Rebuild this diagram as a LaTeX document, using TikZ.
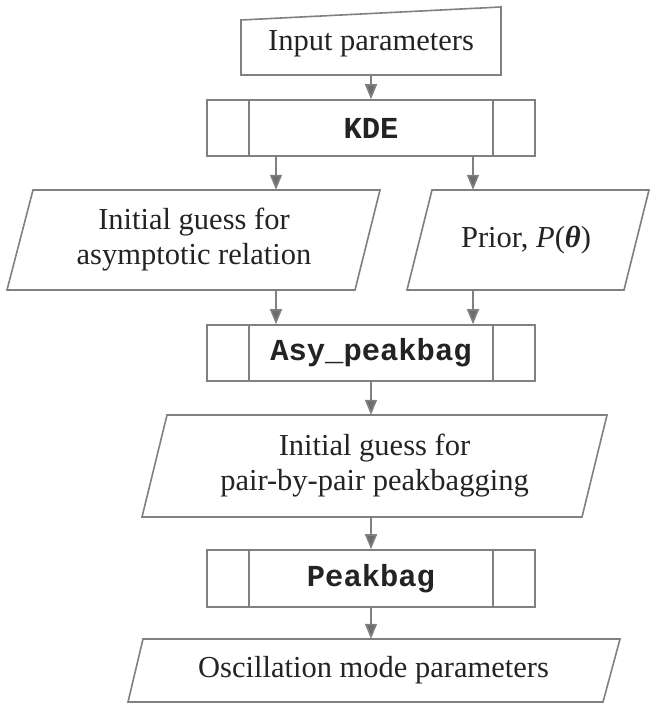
\documentclass[tikz,border=0pt]{standalone}
\usepackage{fontspec}
\setmainfont{Liberation Serif}
\setmonofont{Liberation Mono}
\usetikzlibrary{arrows.meta}

\definecolor{linegray}{RGB}{128,128,128}
\definecolor{tipgray}{RGB}{108,108,108}
\definecolor{textgray}{RGB}{35,35,35}

\tikzset{
	outline/.style={draw=linegray,line width=1.6pt,line join=miter},
	label/.style={text=textgray,align=center,inner sep=0pt,font=\fontsize{30.5}{35}\selectfont},
	process/.style={label,outline,minimum width=328pt,minimum height=56pt,
		font=\fontsize{30.5}{35}\selectfont\ttfamily\bfseries,
		path picture={
			\draw[linegray,line width=1.6pt] ([xshift=42pt]path picture bounding box.north west)--([xshift=42pt]path picture bounding box.south west);
			\draw[linegray,line width=1.6pt] ([xshift=-42pt]path picture bounding box.north east)--([xshift=-42pt]path picture bounding box.south east);
		}},
	flow/.style={draw=linegray,line width=1.6pt,-{Triangle[length=15pt,width=12pt,fill=tipgray]}}
}

\begin{document}
\begin{tikzpicture}[x=1pt,y=-1pt]
	\useasboundingbox (0,0) rectangle (650,704);

	%shapes
	\draw[outline] (241,75)--(501,75)--(501,7)--(241,20)--cycle;		%manual input
	\draw[outline] (7,290)--(33,190)--(380,190)--(355,290)--cycle;		%asymptotic guess
	\draw[outline] (407,290)--(432,190)--(649,190)--(624,290)--cycle;	%prior
	\draw[outline] (142,517)--(167,415)--(607,415)--(582,517)--cycle;	%pair-by-pair guess
	\draw[outline] (128,702)--(143,639)--(620,639)--(603,702)--cycle;	%output

	%nodes
	\node[label,minimum height=62pt] (input) at (371,44) {Input parameters};
	\node[process] (kde) at (371,128) {KDE};
	\node[label,minimum height=100pt] (asyguess) at (194,240) {Initial guess for\\asymptotic relation};
	\node[label,minimum height=100pt] (prior) at (526,240) {Prior, \textit{P}({\bfseries\itshape θ})};
	\node[process] (asy) at (371,353) {Asy\_peakbag};
	\node[label,minimum height=102pt] (pairguess) at (374.5,466) {Initial guess for\\pair-by-pair peakbagging};
	\node[process,minimum height=57pt] (peak) at (371,578.5) {Peakbag};
	\node[label,minimum height=63pt] (modes) at (373.5,670.5) {Oscillation mode parameters};

	%arrow columns
	\coordinate (lx) at (276,0);
	\coordinate (rx) at (473,0);

	%arrows
	\draw[flow] (input.south)--(kde.north);
	\draw[flow] (kde.south -| lx)--(asyguess.north -| lx);
	\draw[flow] (kde.south -| rx)--(prior.north -| rx);
	\draw[flow] (asyguess.south -| lx)--(asy.north -| lx);
	\draw[flow] (prior.south -| rx)--(asy.north -| rx);
	\draw[flow] (asy.south)--(asy.south |- pairguess.north);
	\draw[flow] (pairguess.south -| peak.north)--(peak.north);
	\draw[flow] (peak.south)--(peak.south |- modes.north);
\end{tikzpicture}
\end{document}
